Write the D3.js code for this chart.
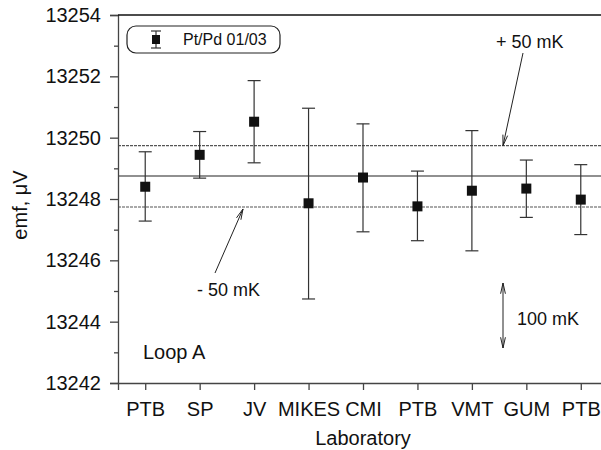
<!DOCTYPE html>
<html><head><meta charset="utf-8">
<script src="https://cdn.jsdelivr.net/npm/d3@7"></script>
<style>body{margin:0;background:#fff}svg{display:block;font-family:"Liberation Sans",Arial,sans-serif}</style>
</head><body><svg id="c" width="601" height="450"></svg>
<script>
const labs = ["PTB","SP","JV","MIKES","CMI","PTB","VMT","GUM","PTB"];
const emf = [13248.40,13249.44,13250.52,13247.86,13248.70,13247.76,13248.27,13248.34,13247.98];
const errHi = [13249.54,13250.20,13251.86,13250.96,13250.45,13248.91,13250.23,13249.27,13249.12];
const errLo = [13247.28,13248.68,13249.18,13244.74,13246.93,13246.64,13246.31,13247.40,13246.84];
const refMean = 13248.75, refPlus = 13249.74, refMinus = 13247.74;
const yTicks = [13242,13244,13246,13248,13250,13252,13254];
const yMinor = [13243,13245,13247,13249,13251,13253];

const svg = d3.select("#c");
const x = d3.scaleLinear().domain([0.5,9.5]).range([118,608]);
const y = d3.scaleLinear().domain([13242,13254]).range([383,15]);

// reference lines
svg.append("line").attr("x1",118).attr("x2",601).attr("y1",y(refMean)).attr("y2",y(refMean)).attr("stroke","#222").attr("stroke-width",1.2);
[refPlus,refMinus].forEach(v=>svg.append("line").attr("x1",118).attr("x2",601).attr("y1",y(v)).attr("y2",y(v)).attr("stroke","#555").attr("stroke-width",1.1).attr("stroke-dasharray","3,1"));

// axes
const ya = svg.append("g").attr("transform","translate(118,0)").call(d3.axisLeft(y).tickValues(yTicks).tickFormat(d3.format("d")).tickSize(8).tickPadding(9));
svg.append("g").attr("transform","translate(118,0)").call(d3.axisLeft(y).tickValues(yMinor).tickFormat("").tickSize(4)).select(".domain").remove();
const xa = svg.append("g").attr("transform","translate(0,383)").call(d3.axisBottom(x).tickValues(d3.range(1,10)).tickFormat(i=>labs[i-1]).tickSize(7).tickPadding(12));
svg.selectAll(".tick text").attr("font-size",20).attr("font-family","Liberation Sans, Arial").attr("fill","#111");
svg.selectAll(".domain").attr("stroke","#444").attr("stroke-width",1.3);
svg.selectAll(".tick line").attr("stroke","#444").attr("stroke-width",1.3);
svg.append("line").attr("x1",118).attr("x2",601).attr("y1",15).attr("y2",15).attr("stroke","#111").attr("stroke-width",1.3);

// error bars
const idx = d3.range(9);
const g = svg.append("g");
g.selectAll(".eb").data(idx).join("line").attr("x1",i=>x(i+1)).attr("x2",i=>x(i+1)).attr("y1",i=>y(errHi[i])).attr("y2",i=>y(errLo[i])).attr("stroke","#333").attr("stroke-width",1.2);
g.selectAll(".ct").data(idx).join("line").attr("x1",i=>x(i+1)-6.5).attr("x2",i=>x(i+1)+6.5).attr("y1",i=>y(errHi[i])).attr("y2",i=>y(errHi[i])).attr("stroke","#333").attr("stroke-width",1.2);
g.selectAll(".cb").data(idx).join("line").attr("x1",i=>x(i+1)-6.5).attr("x2",i=>x(i+1)+6.5).attr("y1",i=>y(errLo[i])).attr("y2",i=>y(errLo[i])).attr("stroke","#333").attr("stroke-width",1.2);
g.selectAll("rect").data(idx).join("rect").attr("x",i=>x(i+1)-5).attr("y",i=>y(emf[i])-5).attr("width",10).attr("height",10).attr("fill","#111");

// legend
svg.append("rect").attr("x",127).attr("y",26).attr("width",153).attr("height",27).attr("rx",9).attr("fill","#fff").attr("stroke","#222").attr("stroke-width",1.2);
svg.append("line").attr("x1",156).attr("x2",156).attr("y1",31).attr("y2",48).attr("stroke","#333").attr("stroke-width",1.2);
svg.append("line").attr("x1",151).attr("x2",161).attr("y1",31).attr("y2",31).attr("stroke","#333").attr("stroke-width",1.2);
svg.append("line").attr("x1",151).attr("x2",161).attr("y1",48).attr("y2",48).attr("stroke","#333").attr("stroke-width",1.2);
svg.append("rect").attr("x",152).attr("y",35).attr("width",8).attr("height",9).attr("fill","#111");
svg.append("text").attr("x",183).attr("y",45).attr("font-size",16).attr("fill","#111").text("Pt/Pd 01/03");

// annotations
function arrow(x1,y1,x2,y2,both){
  svg.append("line").attr("x1",x1).attr("y1",y1).attr("x2",x2).attr("y2",y2).attr("stroke","#222").attr("stroke-width",1);
  const head=(ax,ay,bx,by)=>{const a=Math.atan2(by-ay,bx-ax),L=11,w=0.22;
    svg.append("path").attr("d",`M${bx-L*Math.cos(a-w)},${by-L*Math.sin(a-w)}L${bx},${by}L${bx-L*Math.cos(a+w)},${by-L*Math.sin(a+w)}`).attr("fill","none").attr("stroke","#222").attr("stroke-width",1);};
  head(x1,y1,x2,y2); if(both) head(x2,y2,x1,y1);
}
arrow(523,53,503,y(refPlus));
arrow(215,273,243,y(refMinus)+2);
arrow(503,283,503,348,true);
svg.append("text").attr("x",496).attr("y",48).attr("font-size",18).attr("fill","#111").text("+ 50 mK");
svg.append("text").attr("x",197).attr("y",296).attr("font-size",18).attr("fill","#111").text("- 50 mK");
svg.append("text").attr("x",517).attr("y",325).attr("font-size",18).attr("fill","#111").text("100 mK");
svg.append("text").attr("x",143).attr("y",359).attr("font-size",20).attr("fill","#111").text("Loop A");

// axis titles
svg.append("text").attr("x",363).attr("y",445).attr("text-anchor","middle").attr("font-size",20).attr("fill","#111").text("Laboratory");
svg.append("text").attr("transform","translate(27,205) rotate(-90)").attr("text-anchor","middle").attr("font-size",20).attr("fill","#111").text("emf, μV");
</script></body></html>
